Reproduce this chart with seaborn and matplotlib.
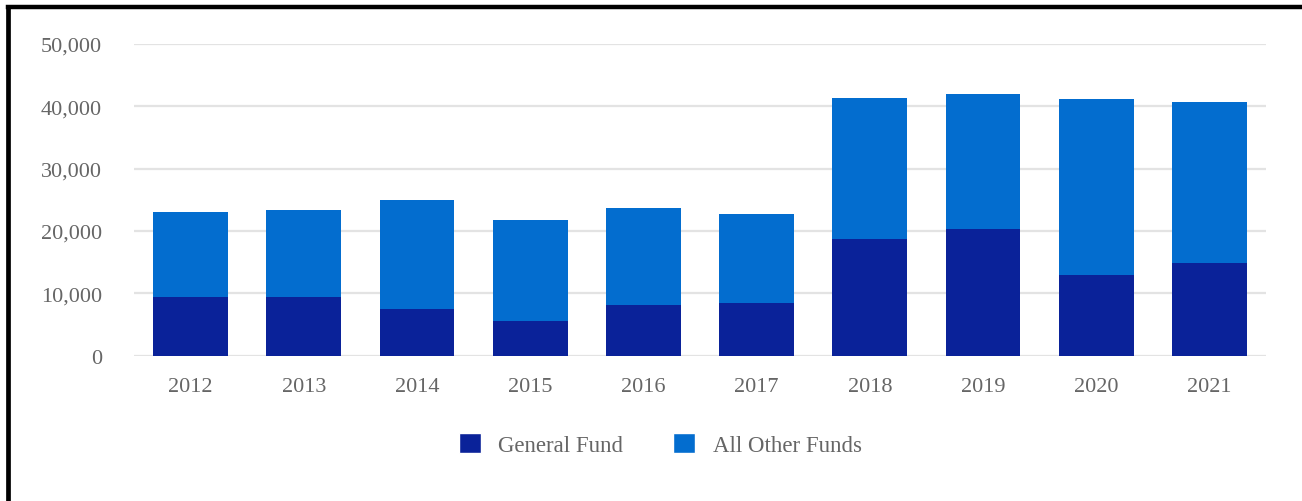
import matplotlib
matplotlib.use("Agg")
import matplotlib.pyplot as plt
from matplotlib.lines import Line2D
from matplotlib.patches import Patch
import seaborn as sns
import pandas as pd

years = ["2012", "2013", "2014", "2015", "2016", "2017", "2018", "2019", "2020", "2021"]
general_fund = [9470, 9480, 7500, 5600, 8200, 8500, 18800, 20400, 13000, 14950]
all_other_funds = [13530, 13820, 17450, 16100, 15450, 14200, 22600, 21600, 28100, 25800]
y_ticks = [0, 10000, 20000, 30000, 40000, 50000]

gf_color = "#0A2299"
other_color = "#036DCF"
text_color = "#666666"

sns.set_theme(style="white")
plt.rcParams["font.family"] = ["Liberation Serif", "DejaVu Serif"]

df = pd.DataFrame({"year": years, "gf": general_fund, "other": all_other_funds})
df["total"] = df["gf"] + df["other"]

fig = plt.figure(figsize=(13.02, 5.02), dpi=100)
ax = fig.add_axes([0.1029, 0.2894, 0.8695, 0.621])

bar_width = 0.66
# stacked bars: full height in the lighter colour, General Fund drawn over it
sns.barplot(data=df, x="year", y="total", color=other_color, width=bar_width,
            saturation=1, linewidth=0, ax=ax, zorder=3)
sns.barplot(data=df, x="year", y="gf", color=gf_color, width=bar_width,
            saturation=1, linewidth=0, ax=ax, zorder=4)

ax.set_xlim(-0.5, len(years) - 0.5)
ax.set_ylim(0, 50000)
ax.set_yticks(y_ticks)
ax.set_yticklabels([f"{v:,}" for v in y_ticks])
ax.yaxis.grid(True, color="#e3e3e3", linewidth=1.6, zorder=0)
ax.set_axisbelow(True)
ax.set_xlabel("")
ax.set_ylabel("")
for s in ax.spines.values():
    s.set_visible(False)
ax.tick_params(axis="both", length=0, labelsize=16, colors=text_color)
ax.tick_params(axis="y", pad=23)
ax.tick_params(axis="x", pad=15)

handles = [Patch(facecolor=gf_color, label="General Fund"),
           Patch(facecolor=other_color, label="All Other Funds")]
leg = fig.legend(handles=handles, loc="center", bbox_to_anchor=(0.507, 0.113),
                 ncol=2, frameon=False, fontsize=16.5, handlelength=0.96,
                 handleheight=0.96, handletextpad=0.75, columnspacing=2.2)
for t in leg.get_texts():
    t.set_color(text_color)

# frame lines along the top and left edges
fig.add_artist(Line2D([0.0065, 1.0], [0.984, 0.984], color="black", linewidth=3.2,
                      transform=fig.transFigure, solid_capstyle="projecting"))
fig.add_artist(Line2D([0.0065, 0.0065], [0.0, 0.984], color="black", linewidth=3.4,
                      transform=fig.transFigure, solid_capstyle="projecting"))

fig.savefig("out.png", dpi=100, facecolor="white")
